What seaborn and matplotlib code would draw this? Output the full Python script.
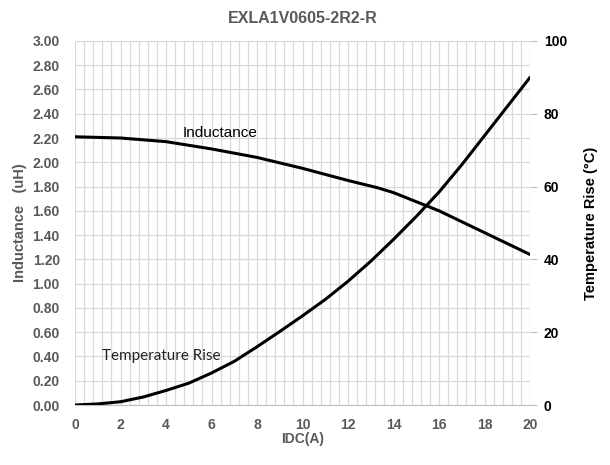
import matplotlib
matplotlib.use("Agg")
import matplotlib.pyplot as plt
import seaborn as sns
import pandas as pd
from matplotlib.ticker import MultipleLocator

# Inductance curve (uH) vs DC current (A)
idc_l = [0, 2, 4, 6, 8, 10, 12, 13.3, 14, 16, 18, 20]
inductance = [2.21, 2.20, 2.17, 2.11, 2.04, 1.95, 1.85, 1.79, 1.75, 1.60, 1.42, 1.24]

# Temperature rise (degC) vs DC current (A)
idc_t = [0, 1, 2, 3, 4, 5, 6, 7, 8, 9, 10, 11, 12, 13, 14, 15, 16, 17, 18, 19, 20]
temp_rise = [0, 0.3, 0.9, 2.2, 4.0, 6.0, 8.8, 12.0, 16.0, 20.2, 24.5, 29.0,
             34.0, 39.5, 45.5, 51.8, 58.5, 66.0, 74.0, 82.0, 90.0]

x_ticks = list(range(0, 21, 2))
left_ticks = [i * 0.2 for i in range(16)]
right_ticks = [0, 20, 40, 60, 80, 100]

sns.set_style("white")
plt.rcParams["font.family"] = ["Liberation Sans", "DejaVu Sans"]

gray = "#595959"
grid_c = "#d9d9d9"

fig = plt.figure(figsize=(6.10, 4.65), dpi=100)
ax = fig.add_axes([0.123, 0.129, 0.746, 0.783])

df_l = pd.DataFrame({"IDC": idc_l, "L": inductance})
df_t = pd.DataFrame({"IDC": idc_t, "T": temp_rise})

sns.lineplot(data=df_l, x="IDC", y="L", ax=ax, color="black", linewidth=2.2)
ax.set_xlim(0, 20)
ax.set_ylim(0, 3.0)
ax.set_xticks(x_ticks)
ax.xaxis.set_minor_locator(MultipleLocator(0.4))
ax.set_yticks(left_ticks)
ax.set_yticklabels([f"{v:.2f}" for v in left_ticks])
ax.grid(True, which="both", axis="x", color=grid_c, linewidth=0.9)
ax.grid(True, which="major", axis="y", color=grid_c, linewidth=0.9)
ax.set_axisbelow(True)
ax.tick_params(axis="both", which="both", length=0, labelsize=10,
               labelcolor=gray)
ax.tick_params(axis="y", pad=11)
ax.tick_params(axis="x", pad=9)
for lab in ax.get_xticklabels() + ax.get_yticklabels():
    lab.set_fontweight("bold")
for s in ["top", "right", "left"]:
    ax.spines[s].set_visible(False)
ax.spines["bottom"].set_color("#bfbfbf")
ax.set_xlabel("IDC(A)", fontsize=10, fontweight="bold", color=gray, labelpad=0)
ax.set_ylabel("Inductance   (uH)", fontsize=10.5, fontweight="bold", color=gray, labelpad=4)
ax.set_title("EXLA1V0605-2R2-R", fontsize=11.5, fontweight="bold", color=gray, pad=13)

ax2 = ax.twinx()
sns.lineplot(data=df_t, x="IDC", y="T", ax=ax2, color="black", linewidth=2.2)
ax2.set_ylim(0, 100)
ax2.set_yticks(right_ticks)
ax2.tick_params(axis="y", length=5, color="#bfbfbf", labelsize=10,
                labelcolor="black", pad=5)
for lab in ax2.get_yticklabels():
    lab.set_fontweight("bold")
for s in ["top", "right", "left", "bottom"]:
    ax2.spines[s].set_visible(False)
ax2.set_ylabel("Temperature Rise (\u00b0C)", fontsize=10.5, fontweight="bold",
               color="black", labelpad=12)
ax2.set_xlabel("")

ax.text(4.75, 2.24, "Inductance", fontsize=11, color="black", va="center")
ax.text(1.2, 0.40, "Temperature Rise", fontsize=11, color="#222222",
        va="center", family=["Lato", "DejaVu Sans"])

fig.savefig("out.png", dpi=100)
